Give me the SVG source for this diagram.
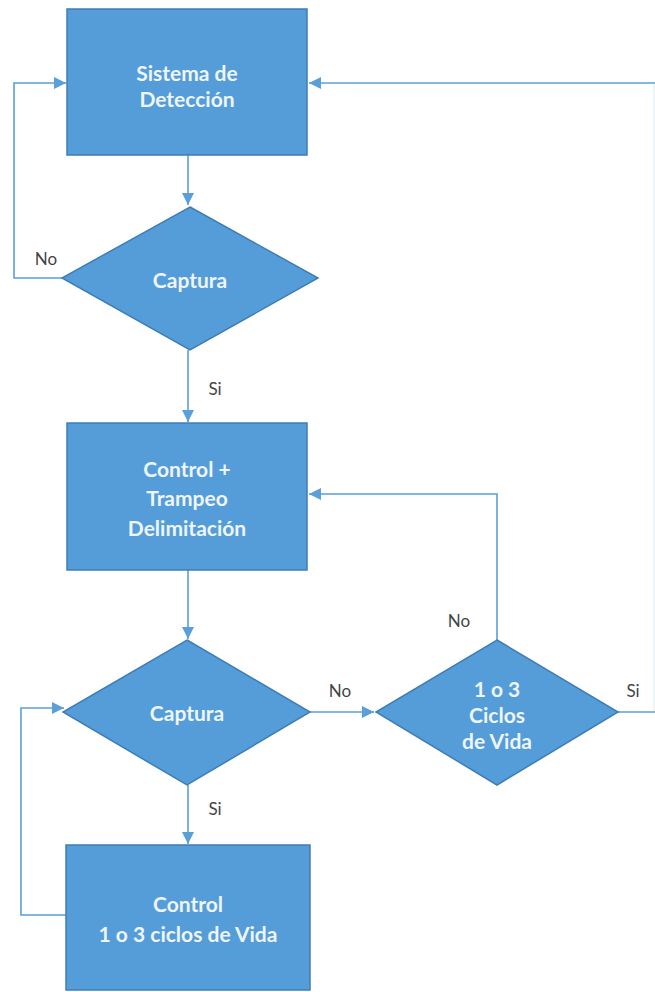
<svg xmlns="http://www.w3.org/2000/svg" width="655" height="992" viewBox="0 0 655 992">
<defs>
<style>
.node{fill:#559dd8;stroke:#3f7db5;stroke-width:1.5}
.t{font-family:Lato,"Open Sans",sans-serif;font-weight:bold;font-size:21px;fill:#eef5fb;text-anchor:middle;dominant-baseline:central}
.lbl{font-family:Lato,"Open Sans",sans-serif;font-size:17px;fill:#444;text-anchor:middle;dominant-baseline:central}
.c{fill:none;stroke:#5b9fd8;stroke-width:1.6}
.faint{fill:none;stroke:#e3ecf4;stroke-width:1.2}
</style>
<marker id="ah" markerUnits="userSpaceOnUse" markerWidth="12" markerHeight="12" viewBox="0 0 12 12" refX="12" refY="6" orient="auto">
<path d="M0,0 L12,6 L0,12 Z" fill="#5b9fd8"/>
</marker>
</defs>
<rect width="655" height="992" fill="#ffffff"/>
<g id="connectors">
<path class="c" d="M188,155 V205" marker-end="url(#ah)"/>
<path class="c" d="M62,278 H14 V83 H66" marker-end="url(#ah)"/>
<path class="c" d="M655,83 H309" marker-end="url(#ah)"/>
<path class="faint" d="M654,84 V711"/>
<path class="c" d="M188,350 V422" marker-end="url(#ah)"/>
<path class="c" d="M188,570 V639" marker-end="url(#ah)"/>
<path class="c" d="M497,640 V494 H309" marker-end="url(#ah)"/>
<path class="c" d="M310,712 H374" marker-end="url(#ah)"/>
<path class="c" d="M618,712 H655"/>
<path class="c" d="M188,785 V844" marker-end="url(#ah)"/>
<path class="c" d="M66,915 H21 V708 H64" marker-end="url(#ah)"/>
</g>
<g id="lbl-no1"><text class="lbl" x="46" y="258">No</text></g>
<g id="lbl-si1"><text class="lbl" x="215" y="388">Si</text></g>
<g id="lbl-no2"><text class="lbl" x="459" y="620">No</text></g>
<g id="lbl-no3"><text class="lbl" x="340" y="690">No</text></g>
<g id="lbl-si2"><text class="lbl" x="633" y="690">Si</text></g>
<g id="lbl-si3"><text class="lbl" x="215" y="808">Si</text></g>
<g id="n-sistema">
<rect class="node" x="67" y="9" width="240" height="146"/>
<text class="t" x="187" y="72">Sistema de</text>
<text class="t" x="187" y="98">Detección</text>
</g>
<g id="n-captura1">
<polygon class="node" points="190,207 318,278 190,350 62,278"/>
<text class="t" x="190" y="279">Captura</text>
</g>
<g id="n-control">
<rect class="node" x="67" y="423" width="240" height="147"/>
<text class="t" x="187" y="468">Control +</text>
<text class="t" x="187" y="497">Trampeo</text>
<text class="t" x="187" y="527">Delimitación</text>
</g>
<g id="n-captura2">
<polygon class="node" points="187,640 310,712 187,785 63,712"/>
<text class="t" x="187" y="712">Captura</text>
</g>
<g id="n-ciclos">
<polygon class="node" points="497,640 618,712 497,785 376,712"/>
<text class="t" x="497" y="688">1 o 3</text>
<text class="t" x="497" y="714">Ciclos</text>
<text class="t" x="497" y="740">de Vida</text>
</g>
<g id="n-control2">
<rect class="node" x="66" y="845" width="244" height="145"/>
<text class="t" x="188" y="903">Control</text>
<text class="t" x="188" y="933">1 o 3 ciclos de Vida</text>
</g>
</svg>
